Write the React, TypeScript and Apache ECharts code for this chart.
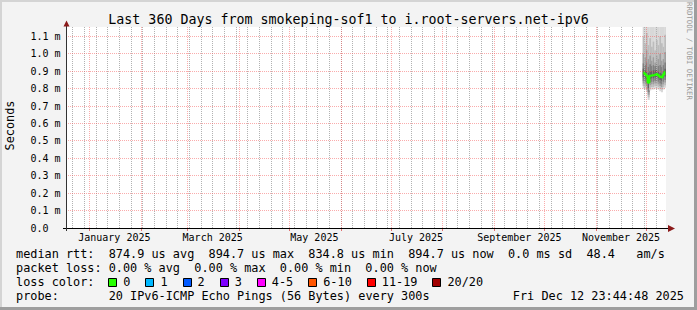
import React, { useEffect, useRef } from 'react';
import * as echarts from 'echarts';

// ---------- data ----------
const END_TIME = '2025-12-12 23:44:48';
const SPAN_DAYS = 360;
const Y_MAX = 1.154; // ms

const monthStarts = [
  '2025-01-01', '2025-02-01', '2025-03-01', '2025-04-01', '2025-05-01', '2025-06-01',
  '2025-07-01', '2025-08-01', '2025-09-01', '2025-10-01', '2025-11-01', '2025-12-01',
];
const firstWeekLine = '2024-12-22';
const xTickLabels = ['January 2025', 'March 2025', 'May 2025', 'July 2025', 'September 2025', 'November 2025'];
const xTickLabelDates = ['2025-01-16', '2025-03-16', '2025-05-16', '2025-07-16', '2025-09-16', '2025-11-16'];
const yTickValues = [0, 0.1, 0.2, 0.3, 0.4, 0.5, 0.6, 0.7, 0.8, 0.9, 1.0, 1.1];
const yTickLabels = ['0.0', '0.1 m', '0.2 m', '0.3 m', '0.4 m', '0.5 m', '0.6 m', '0.7 m', '0.8 m', '0.9 m', '1.0 m', '1.1 m'];

const sampleDays = [
  '2025-11-29 12:00', '2025-11-30 12:00', '2025-12-01 12:00', '2025-12-02 12:00',
  '2025-12-03 12:00', '2025-12-04 12:00', '2025-12-05 12:00', '2025-12-06 12:00',
  '2025-12-07 12:00', '2025-12-08 12:00', '2025-12-09 12:00', '2025-12-10 12:00',
  '2025-12-11 12:00', '2025-12-12 12:00',
];
const medianRtt = [0.892, 0.884, 0.874, 0.8348, 0.874, 0.876, 0.877, 0.881, 0.883, 0.876, 0.868, 0.864, 0.880, 0.8947];

const smokeHigh1 = [1.30, 1.25, 1.40, 1.20, 1.35, 1.28, 1.22, 1.18, 1.30, 1.26, 1.32, 1.24, 1.28, 1.36];
const smokeHigh2 = [1.10, 1.06, 1.12, 1.05, 1.09, 1.04, 1.07, 1.02, 1.08, 1.05, 1.10, 1.06, 1.04, 1.11];
const smokeHigh3 = [1.00, 0.98, 1.02, 0.97, 0.99, 0.96, 0.98, 0.95, 0.99, 0.97, 1.00, 0.96, 0.97, 1.01];
const smokeHigh4 = [0.945, 0.935, 0.95, 0.925, 0.94, 0.93, 0.935, 0.93, 0.94, 0.93, 0.935, 0.925, 0.935, 0.95];
const smokeHigh5 = [0.915, 0.905, 0.90, 0.89, 0.90, 0.90, 0.905, 0.905, 0.91, 0.90, 0.89, 0.885, 0.90, 0.915];
const smokeLow5 = [0.865, 0.86, 0.85, 0.80, 0.855, 0.86, 0.86, 0.865, 0.865, 0.86, 0.85, 0.845, 0.86, 0.87];
const smokeLow4 = [0.845, 0.84, 0.83, 0.78, 0.835, 0.84, 0.84, 0.845, 0.845, 0.84, 0.83, 0.825, 0.84, 0.85];
const smokeLow3 = [0.83, 0.825, 0.815, 0.765, 0.82, 0.825, 0.825, 0.83, 0.83, 0.825, 0.815, 0.81, 0.825, 0.835];
const smokeLow2 = [0.815, 0.81, 0.80, 0.75, 0.805, 0.81, 0.81, 0.815, 0.815, 0.81, 0.80, 0.795, 0.81, 0.82];
const smokeLow1 = [0.80, 0.795, 0.785, 0.735, 0.79, 0.795, 0.795, 0.80, 0.80, 0.795, 0.785, 0.78, 0.795, 0.805];
const smokeColors = ['#d8d8d8', '#bcbcbc', '#9e9e9e', '#808080', '#646464'];

const titleText = 'Last 360 Days from smokeping-sof1 to i.root-servers.net-ipv6';
const rttLegend: [string, number][] = [
  ['median rtt:', 0], ['874.9 us avg', 13], ['894.7 us max', 27], ['834.8 us min', 41],
  ['894.7 us now', 55], ['0.0 ms sd', 69], ['48.4', 80], ['am/s', 87],
];
const lossLegend: [string, number][] = [
  ['packet loss:', 0], ['0.00 % avg', 13], ['0.00 % max', 25], ['0.00 % min', 37], ['0.00 % now', 49],
];
const lossColorLabels = ['0', '1', '2', '3', '4-5', '6-10', '11-19', '20/20'];
const lossColors = ['#26ff00', '#00b8ff', '#0059ff', '#7e00ff', '#ff00ff', '#ff5500', '#ff0000', '#a00000'];
const probeText = '20 IPv6-ICMP Echo Pings (56 Bytes) every 300s';
const dateText = 'Fri Dec 12 23:44:48 2025';

// ---------- helpers ----------
const DAY = 86400000;
const ms = (s: string) => {
  const [d, t = '00:00:00'] = s.split(' ');
  return Date.parse(`${d}T${t.length === 5 ? t + ':00' : t}Z`);
};

const MONO = 'DejaVu Sans Mono';

export default function App() {
  const ref = useRef<HTMLDivElement>(null);

  useEffect(() => {
    document.body.style.margin = '0';
    if (!ref.current) return;
    const chart = echarts.init(ref.current, undefined, { renderer: 'svg' });

    const endMs = ms(END_TIME);
    const startMs = endMs - SPAN_DAYS * DAY;
    const monthMs = monthStarts.map(ms);
    const labelMs = xTickLabelDates.map(ms);
    const weekMs: number[] = [];
    for (let t = ms(firstWeekLine); t < endMs; t += 7 * DAY) weekMs.push(t);

    const lows = [smokeLow1, smokeLow2, smokeLow3, smokeLow4, smokeLow5];
    const highs = [smokeHigh1, smokeHigh2, smokeHigh3, smokeHigh4, smokeHigh5];

    const minorColor = '#b2b2b2';
    const majorColor = 'rgba(245,90,90,0.5)';

    const medianData = sampleDays.map((d, i) => [ms(d), medianRtt[i], i]);

    // legend graphics
    const CW = 7.13;
    const LX = 16;
    const legendFont = { fontFamily: MONO, fontSize: 11.85, fill: '#000' };
    const textAt = (text: string, x: number, y: number, extra: any = {}) => ({
      type: 'text', x, y, z: 50,
      style: { text, ...legendFont, align: 'left', verticalAlign: 'middle', ...extra },
    });
    const graphics: any[] = [];
    const rows = [254.3, 268.3, 282.3, 296.2];
    rttLegend.forEach(([s, c]) => graphics.push(textAt(s, LX + c * CW, rows[0])));
    lossLegend.forEach(([s, c]) => graphics.push(textAt(s, LX + c * CW, rows[1])));
    graphics.push(textAt('loss color:', LX, rows[2]));
    let bx = LX + 12.95 * CW;
    lossColorLabels.forEach((lab, i) => {
      graphics.push({
        type: 'rect', z: 50,
        shape: { x: Math.round(bx) + 0.5, y: 278.5, width: 8, height: 8 },
        style: { fill: lossColors[i], stroke: '#000', lineWidth: 1 },
      });
      const lx = bx + 15;
      graphics.push(textAt(lab, lx, rows[2]));
      bx = lx + lab.length * CW + 15;
    });
    graphics.push(textAt('probe:', LX, rows[3]));
    graphics.push(textAt(probeText, LX + 13 * CW, rows[3]));
    graphics.push(textAt(dateText, 684, rows[3], { align: 'right' }));

    // title and side texts
    graphics.push({
      type: 'text', x: 348.5, y: 19.5, z: 50,
      style: { text: titleText, fontFamily: MONO, fontSize: 13.3, fill: '#000', align: 'center', verticalAlign: 'middle' },
    });
    graphics.push({
      type: 'text', x: 10, y: 125.5, rotation: Math.PI / 2, z: 50,
      style: { text: 'Seconds', fontFamily: MONO, fontSize: 11.85, fill: '#000', align: 'center', verticalAlign: 'middle' },
    });
    graphics.push({
      type: 'text', x: 689.5, y: 51, rotation: -Math.PI / 2, z: 50,
      style: { text: 'RRDTOOL / TOBI OETIKER', fontFamily: MONO, fontSize: 7.4, fill: '#9a9a9a', align: 'center', verticalAlign: 'middle' },
    });

    // frame
    graphics.push({ type: 'rect', z: 40, shape: { x: 0, y: 0, width: 697, height: 2 }, style: { fill: '#d4d4d4' } });
    graphics.push({ type: 'rect', z: 40, shape: { x: 0, y: 0, width: 2, height: 310 }, style: { fill: '#d4d4d4' } });
    graphics.push({ type: 'rect', z: 41, shape: { x: 0, y: 307, width: 697, height: 3 }, style: { fill: '#9e9e9e' } });
    graphics.push({ type: 'rect', z: 41, shape: { x: 694, y: 0, width: 3, height: 310 }, style: { fill: '#9e9e9e' } });

    // axes lines and arrows
    graphics.push({ type: 'line', z: 60, shape: { x1: 63, y1: 228.5, x2: 670, y2: 228.5 }, style: { stroke: '#000', lineWidth: 1 } });
    graphics.push({ type: 'polygon', z: 61, shape: { points: [[668, 225], [675, 228.5], [668, 232]] }, style: { fill: '#8b1a1a' } });
    graphics.push({ type: 'line', z: 60, shape: { x1: 66.5, y1: 231, x2: 66.5, y2: 25 }, style: { stroke: '#333', lineWidth: 1 } });
    graphics.push({ type: 'polygon', z: 61, shape: { points: [[63.5, 26.5], [66.5, 20.5], [69.5, 26.5]] }, style: { fill: '#8b1a1a' } });

    const option: any = {
      animation: false,
      backgroundColor: '#f3f3f3',
      grid: { left: 66, top: 27, width: 600, height: 201, show: true, backgroundColor: '#ffffff', borderWidth: 0 },
      xAxis: {
        type: 'value',
        min: startMs,
        max: endMs,
        axisLine: { show: false },
        splitLine: { show: false },
        axisTick: { show: true, customValues: monthMs, length: 3, lineStyle: { color: '#e07070' } },
        axisLabel: {
          customValues: labelMs,
          margin: 4,
          fontFamily: MONO,
          fontSize: 10,
          color: '#000',
          formatter: (v: number) => {
            const i = labelMs.findIndex((t) => Math.abs(t - v) < 1000);
            return i >= 0 ? xTickLabels[i] : '';
          },
        },
      },
      yAxis: {
        type: 'value',
        min: 0,
        max: Y_MAX,
        axisLine: { show: false },
        axisTick: { show: false },
        splitLine: { show: false },
        axisLabel: {
          customValues: yTickValues,
          align: 'left',
          margin: 35.5,
          fontFamily: MONO,
          fontSize: 10,
          color: '#000',
          formatter: (v: number) => {
            const i = yTickValues.findIndex((t) => Math.abs(t - v) < 1e-9);
            return i >= 0 ? yTickLabels[i] : '';
          },
        },
      },
      series: [
        {
          type: 'custom',
          z: 1,
          clip: true,
          silent: true,
          data: medianData,
          encode: { x: 0, y: 1 },
          renderItem: (params: any, api: any) => {
            const t = api.value(0);
            const i = api.value(2);
            const children: any[] = [];
            for (let b = 0; b < lows.length; b++) {
              const p1 = api.coord([t - DAY / 2, highs[b][i]]);
              const p2 = api.coord([t + DAY / 2, lows[b][i]]);
              children.push({
                type: 'rect',
                shape: { x: p1[0], y: p1[1], width: p2[0] - p1[0] + 0.3, height: p2[1] - p1[1] },
                style: { fill: smokeColors[b] },
              });
            }
            return { type: 'group', children };
          },
        },
        {
          // grid lines, drawn through the axes' scales, on top of the smoke
          type: 'custom',
          z: 3,
          silent: true,
          data: [[startMs, 0]],
          encode: { x: 0, y: 1 },
          renderItem: (params: any, api: any) => {
            const cs = params.coordSys;
            const top = cs.y;
            const bottom = cs.y + cs.height;
            const left = cs.x;
            const right = cs.x + cs.width;
            const children: any[] = [];
            const vline = (t: number, color: string) => {
              const x = Math.floor(api.coord([t, 0])[0]) + 0.5;
              children.push({
                type: 'line',
                shape: { x1: x, y1: top, x2: x, y2: bottom },
                style: { stroke: color, lineWidth: 1, lineDash: [1, 1] },
              });
            };
            weekMs.forEach((t) => vline(t, minorColor));
            monthMs.forEach((t) => vline(t, majorColor));
            yTickValues.filter((v) => v > 0).forEach((v) => {
              const y = Math.floor(api.coord([startMs, v])[1]) + 0.5;
              children.push({
                type: 'line',
                shape: { x1: left, y1: y, x2: right, y2: y },
                style: { stroke: majorColor, lineWidth: 1, lineDash: [1, 1] },
              });
            });
            return { type: 'group', children };
          },
        },
        {
          type: 'line',
          z: 4,
          silent: true,
          step: 'middle',
          data: medianData.map((d) => [d[0], d[1]]),
          symbol: 'none',
          lineStyle: { color: '#26ff00', width: 2.2 },
        },
      ],
      graphic: graphics,
    };

    chart.setOption(option);
    return () => chart.dispose();
  }, []);

  return <div ref={ref} style={{ position: 'fixed', left: 0, top: 0, width: 697, height: 310 }} />;
}
